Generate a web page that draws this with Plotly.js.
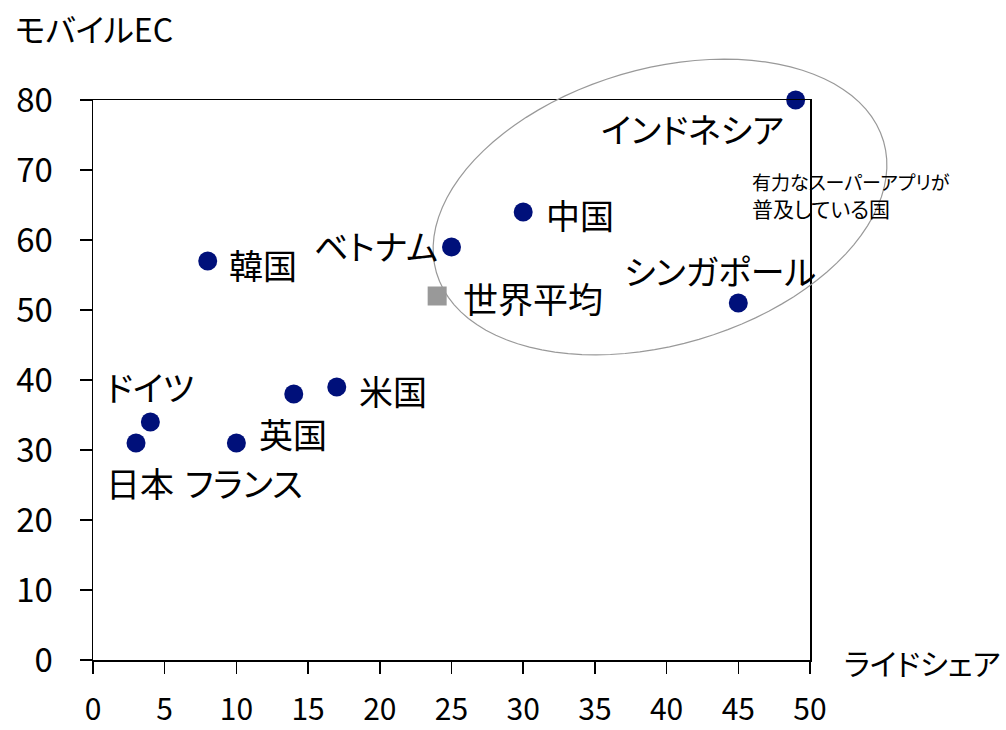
<!DOCTYPE html>
<html><head><meta charset="utf-8">
<script src="https://cdn.plot.ly/plotly-3.0.1.min.js"></script>
<style>html,body{margin:0;padding:0;background:#fff;}#chart{width:1006px;height:730px;}
svg text{font-feature-settings:"palt" 1;}</style>
</head><body><div id="chart"></div>
<script>
const countries = ['インドネシア','中国','ベトナム','シンガポール','韓国','米国','英国','フランス','ドイツ','日本'];
const rideShare = [49, 30, 25, 45, 8, 17, 14, 10, 4, 3];
const mobileEC  = [80, 64, 59, 51, 57, 39, 38, 31, 34, 31];
const avgLabel = ['世界平均'];
const avgRide = [24];
const avgEC = [52];
const xTicks = [0,5,10,15,20,25,30,35,40,45,50];
const yTicks = [0,10,20,30,40,50,60,70,80];

// label offsets (pixels) relative to each point
const labelShift = {
  'インドネシア':[-103,-28], '中国':[57,-2], 'ベトナム':[-76,2], 'シンガポール':[-18,33],
  '韓国':[55,-3], '米国':[56,-3], '英国':[-1,-39], 'フランス':[8,-39], 'ドイツ':[0,36], '日本':[4,-39],
  '世界平均':[96,-1]
};

const FONT = '"Noto Sans CJK JP", "Noto Sans", sans-serif';
const L = 93, R = 810, T = 100, B = 660;
const W = 1006, H = 730;

const annotations = [];
countries.forEach((c,i)=>{
  annotations.push({x: rideShare[i], y: mobileEC[i], xref:'x', yref:'y', text:c, showarrow:false,
    xanchor:'center', yanchor:'middle', xshift: labelShift[c][0], yshift: labelShift[c][1],
    font:{family:FONT, size:34, color:'#000'}});
});
annotations.push({x: avgRide[0], y: avgEC[0], xref:'x', yref:'y', text:avgLabel[0], showarrow:false,
  xanchor:'center', yanchor:'middle', xshift: labelShift['世界平均'][0], yshift: labelShift['世界平均'][1],
  font:{family:FONT, size:35, color:'#000'}});

function px2paperX(p){return (p-L)/(R-L);}
function px2paperY(p){return (B-p)/(B-T);}

annotations.push({xref:'paper', yref:'paper', x:px2paperX(13), y:px2paperY(28), xanchor:'left', yanchor:'middle',
  text:'モバイルEC', showarrow:false, font:{family:FONT, size:32, color:'#000'}});
annotations.push({xref:'paper', yref:'paper', x:px2paperX(1002), y:px2paperY(662), xanchor:'right', yanchor:'middle',
  text:'ライドシェア', showarrow:false, font:{family:FONT, size:30, color:'#000'}});
annotations.push({xref:'paper', yref:'paper', x:px2paperX(750), y:px2paperY(196), xanchor:'left', yanchor:'middle',
  align:'left', text:'<span style="font-size:19px">有力なスーパーアプリが</span><br>普及している国', showarrow:false,
  font:{family:FONT, size:21, color:'#000'}});

// ellipse outline
const cx=660, cy=207, a=233, b=138, th=16.4*Math.PI/180;
let path='';
for(let k=0;k<=96;k++){
  const t=2*Math.PI*k/96;
  const u=a*Math.cos(t), v=b*Math.sin(t);
  const x=cx+u*Math.cos(th)+v*Math.sin(th);
  const y=cy-u*Math.sin(th)+v*Math.cos(th);
  path += (k===0?'M ':' L ')+px2paperX(x).toFixed(5)+' '+px2paperY(y).toFixed(5);
}
path+=' Z';

const data = [
  {type:'scatter', mode:'markers', x:rideShare, y:mobileEC, text:countries,
   marker:{color:'#00107a', size:19, line:{width:0}}, cliponaxis:false, hoverinfo:'text'},
  {type:'scatter', mode:'markers', x:avgRide, y:avgEC, text:avgLabel,
   marker:{color:'#999999', size:19, symbol:'square', line:{width:0}}, cliponaxis:false, hoverinfo:'text'}
];

const layout = {
  width:W, height:H, showlegend:false,
  paper_bgcolor:'#fff', plot_bgcolor:'#fff',
  margin:{l:L, r:W-R, t:T, b:H-B, pad:0},
  font:{family:FONT, color:'#000'},
  xaxis:{range:[0,50], tickvals:xTicks, ticktext:xTicks.map(String), ticks:'outside', ticklen:12, tickwidth:1.5,
    tickcolor:'#000', showline:true, linecolor:'#000', linewidth:1.5, mirror:true, showgrid:false, zeroline:false,
    tickfont:{family:FONT, size:30, color:'#000'}, ticklabelstandoff:10, fixedrange:true, automargin:false},
  yaxis:{range:[0,80], tickvals:yTicks, ticktext:yTicks.map(String), ticks:'outside', ticklen:12, tickwidth:1.5,
    tickcolor:'#000', showline:true, linecolor:'#000', linewidth:1.5, mirror:true, showgrid:false, zeroline:false,
    tickfont:{family:FONT, size:33, color:'#000'}, ticklabelstandoff:20, fixedrange:true, automargin:false},
  annotations: annotations,
  shapes:[{type:'path', xref:'paper', yref:'paper', path:path, line:{color:'#999999', width:1.2}, fillcolor:'rgba(0,0,0,0)', layer:'above'}]
};

Plotly.newPlot('chart', data, layout, {displayModeBar:false, staticPlot:true});
</script></body></html>
